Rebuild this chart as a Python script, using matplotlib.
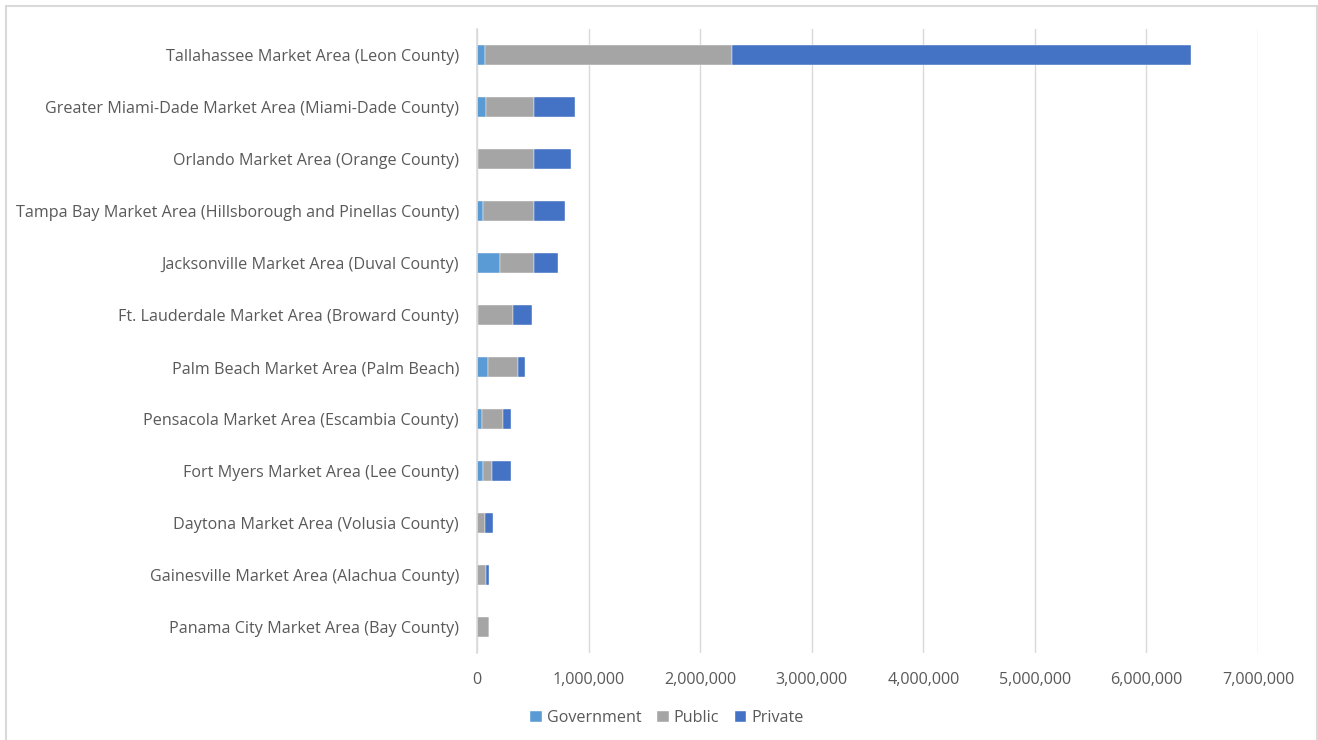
import matplotlib
matplotlib.use("Agg")
import matplotlib.pyplot as plt
from matplotlib.patches import Rectangle
from matplotlib.ticker import FuncFormatter

plt.rcParams['font.family'] = ['Open Sans', 'DejaVu Sans']

markets = [
    "Tallahassee Market Area (Leon County)",
    "Greater Miami-Dade Market Area (Miami-Dade County)",
    "Orlando Market Area (Orange County)",
    "Tampa Bay Market Area (Hillsborough and Pinellas County)",
    "Jacksonville Market Area (Duval County)",
    "Ft. Lauderdale Market Area (Broward County)",
    "Palm Beach Market Area (Palm Beach)",
    "Pensacola Market Area (Escambia County)",
    "Fort Myers Market Area (Lee County)",
    "Daytona Market Area (Volusia County)",
    "Gainesville Market Area (Alachua County)",
    "Panama City Market Area (Bay County)",
]
government = [75000, 80000, 5000, 56000, 206000, 5000, 98000, 47000, 56000, 0, 0, 3000]
public = [2215000, 431000, 506000, 455000, 305000, 314000, 272000, 183000, 78000, 74000, 83000, 104000]
private = [4110000, 367000, 331000, 279000, 217000, 174000, 63000, 77000, 167000, 66000, 24000, 0]

series = [("Government", government, "#5B9BD5"),
          ("Public", public, "#A5A5A5"),
          ("Private", private, "#4472C4")]

W, H = 1318, 740
fig = plt.figure(figsize=(W / 100, H / 100), dpi=100)
ax = fig.add_axes([477 / W, (H - 653) / H, (1258 - 477) / W, (653 - 29) / H])

y = list(range(len(markets)))
left = [0] * len(markets)
for name, vals, color in series:
    ax.barh(y, vals, left=left, height=0.39, color=color, label=name,
            edgecolor="white", linewidth=0.3)
    left = [a + b for a, b in zip(left, vals)]

ax.set_yticks(y)
ax.set_yticklabels(markets)
ax.set_ylim(len(markets) - 0.5, -0.5)
ax.set_xlim(0, 7000000)
ax.set_xticks(range(0, 7000001, 1000000))
ax.xaxis.set_major_formatter(FuncFormatter(lambda v, p: f"{int(v):,}"))

ax.grid(axis="x", color="#D9D9D9", linewidth=1)
ax.set_axisbelow(True)
for s in ["top", "right", "bottom"]:
    ax.spines[s].set_visible(False)
ax.spines["left"].set_color("#D9D9D9")
ax.spines["left"].set_linewidth(1.2)
ax.tick_params(axis="both", length=0, colors="#595959", labelsize=11.6)
ax.tick_params(axis="y", pad=13)
ax.tick_params(axis="x", pad=14)

leg = fig.legend(loc="center", bbox_to_anchor=(0.5 + 8 / W, (H - 718) / H), ncol=3,
                 frameon=False, fontsize=11.6, handlelength=0.7, handleheight=0.7,
                 handletextpad=0.3, columnspacing=1.0)
for t in leg.get_texts():
    t.set_color("#595959")

fig.patches.append(Rectangle((6 / W, -0.01), (1317 - 6) / W, (H - 6) / H + 0.01,
                             transform=fig.transFigure, fill=False,
                             edgecolor="#D9D9D9", linewidth=1.5))

fig.savefig("out.png", dpi=100, facecolor="white")
